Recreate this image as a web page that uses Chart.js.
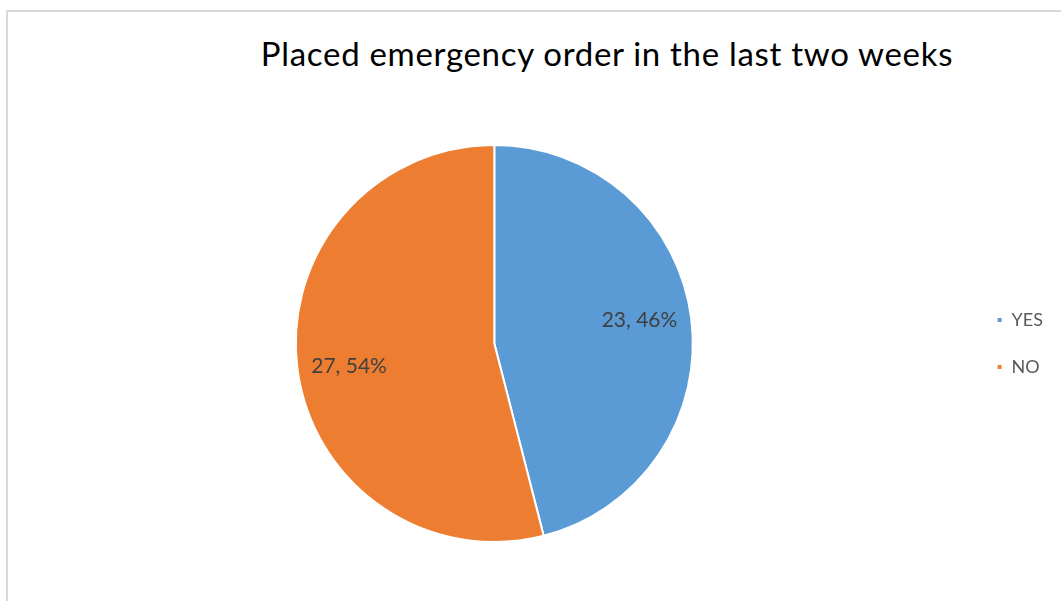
<!DOCTYPE html>
<html>
<head>
<meta charset="utf-8">
<script src="https://cdn.jsdelivr.net/npm/chart.js@4"></script>
<style>
  html, body { margin: 0; padding: 0; background: #fff; overflow: hidden; }
  body { width: 1061px; height: 601px; position: relative; }
  .frame { position: absolute; left: 6px; top: 10px; width: 1200px; height: 700px; border: 2px solid #d9d9d9; box-sizing: border-box; }
  #chartTitle { position: absolute; left: 0; width: 1214px; top: 29px; margin: 0; text-align: center;
    font-family: Lato, sans-serif; font-weight: normal; font-size: 33px; letter-spacing: 0.7px; color: #000; line-height: 48px; }
  .wrap { position: absolute; left: 0; top: 0; width: 1061px; height: 601px; }
</style>
</head>
<body>
<div class="frame"></div>
<h1 id="chartTitle">Placed emergency order in the last two weeks</h1>
<div class="wrap"><canvas id="pieChart"></canvas></div>
<script>
const categories = ['YES', 'NO'];
const counts = [23, 27];
const percents = [46, 54];
const sliceColors = ['#5b9bd5', '#ed7d31'];

// labels inside the slices, "count, percent%"
const sliceLabels = {
  id: 'sliceLabels',
  afterDatasetsDraw(chart) {
    const ctx = chart.ctx;
    const meta = chart.getDatasetMeta(0);
    ctx.save();
    ctx.font = '21px Lato, sans-serif';
    ctx.fillStyle = '#404040';
    ctx.textBaseline = 'middle';
    meta.data.forEach((arc, i) => {
      const p = arc.getProps(['x', 'y', 'startAngle', 'endAngle', 'outerRadius']);
      const mid = (p.startAngle + p.endAngle) / 2;
      const r = p.outerRadius - 14;
      const x = p.x + Math.cos(mid) * r;
      const y = p.y + Math.sin(mid) * r;
      ctx.textAlign = Math.cos(mid) >= 0 ? 'right' : 'left';
      ctx.fillText(counts[i] + ', ' + percents[i] + '%', x, y);
    });
    ctx.restore();
  }
};

const ctx = document.getElementById('pieChart').getContext('2d');
const pieChart = new Chart(ctx, {
  type: 'pie',
  data: {
    labels: categories,
    datasets: [{
      data: counts,
      backgroundColor: sliceColors,
      borderColor: '#ffffff',
      borderWidth: 2
    }]
  },
  options: {
    responsive: true,
    maintainAspectRatio: false,
    animation: false,
    layout: { padding: { left: 21, right: 8, top: 144, bottom: 58 } },
    plugins: {
      title: { display: false },
      tooltip: { enabled: false },
      legend: {
        position: 'right',
        labels: {
          boxWidth: 6,
          boxHeight: 6,
          padding: 29,
          color: '#595959',
          font: { family: 'Lato, sans-serif', size: 18 }
        }
      }
    }
  },
  plugins: [sliceLabels]
});
</script>
</body>
</html>
